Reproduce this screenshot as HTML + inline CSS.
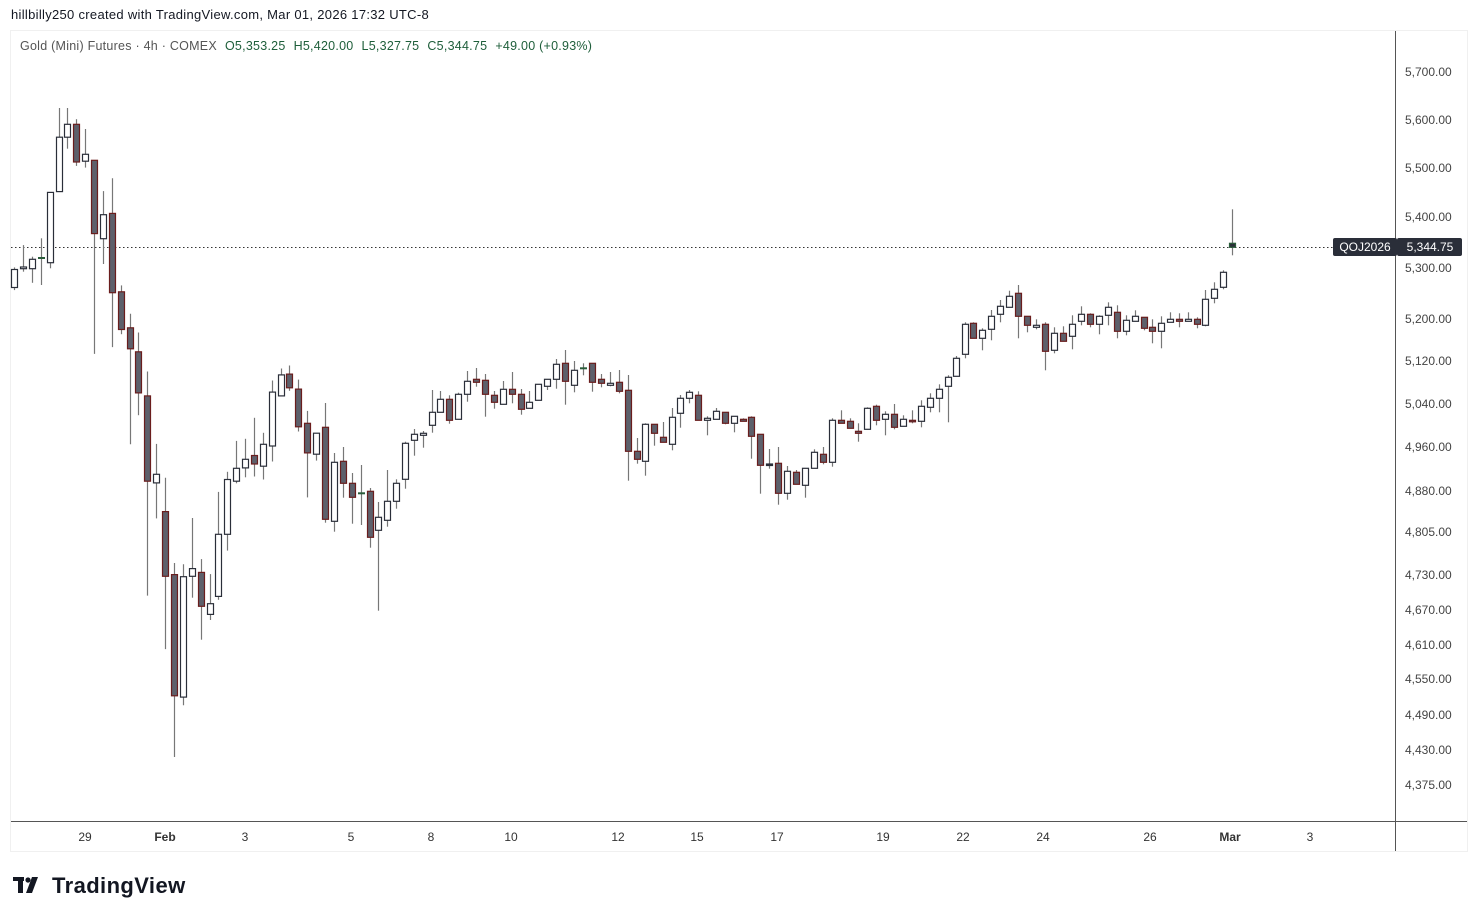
<!DOCTYPE html>
<html><head><meta charset="utf-8"><style>
body{margin:0;background:#fff;width:1478px;height:918px;overflow:hidden;font-family:"Liberation Sans",sans-serif}
</style></head><body>
<svg id="s" width="1478" height="918" xmlns="http://www.w3.org/2000/svg" font-family="Liberation Sans, sans-serif">
<rect x="0" y="0" width="1478" height="918" fill="#fff"/>
<rect x="10.5" y="30.5" width="1457" height="821" fill="#fff" stroke="#f0f0f0"/>
<text x="11" y="19" font-size="13" letter-spacing="0.3" fill="#131722">hillbilly250 created with TradingView.com, Mar 01, 2026 17:32 UTC-8</text>
<text x="20" y="50" font-size="12.5" letter-spacing="0.25" fill="#555"><tspan>Gold (Mini) Futures · 4h · COMEX</tspan><tspan fill="#1e5e3a" dx="8">O5,353.25</tspan><tspan fill="#1e5e3a" dx="8">H5,420.00</tspan><tspan fill="#1e5e3a" dx="8">L5,327.75</tspan><tspan fill="#1e5e3a" dx="8">C5,344.75</tspan><tspan fill="#1e5e3a" dx="8">+49.00 (+0.93%)</tspan></text>
<line x1="1395.5" y1="31" x2="1395.5" y2="851" stroke="#555" stroke-width="1"/>
<line x1="11" y1="821.5" x2="1467" y2="821.5" stroke="#555" stroke-width="1"/>
<line x1="11" y1="247.5" x2="1335" y2="247.5" stroke="#333" stroke-dasharray="1.5,2.5"/>
<g id="c"></g>
<g font-size="12" fill="#444" text-anchor="start" id="ya"></g>
<g font-size="12" fill="#333" text-anchor="middle" id="xa"></g>
<rect x="1333" y="238" width="64" height="18" rx="2" fill="#2a2e39"/>
<rect x="1397" y="238" width="65" height="18" rx="2" fill="#2a2e39"/>
<text x="1365" y="251" font-size="12" fill="#fff" text-anchor="middle">QOJ2026</text>
<text x="1430" y="251" font-size="12" fill="#fff" text-anchor="middle">5,344.75</text>
<g transform="translate(13,877)"><rect x="0" y="0" width="11" height="4" fill="#131722"/><rect x="5" y="0" width="5" height="16" fill="#131722"/><circle cx="15" cy="3" r="2.6" fill="#131722"/><polygon points="19,0 25,0 19,16 13,16" fill="#131722"/></g>
<text x="52" y="893" font-size="22" font-weight="bold" letter-spacing="0.4" fill="#131722">TradingView</text>
</svg>
<script>
var D=[
[14,269.5,287.5,267.4,290.1,'u'],[23,267,268.7,245.1,271.7,'u'],[32,259.3,268.7,256.7,282.8,'u'],[41,258,258,238.3,285,'g'],
[50,192.4,262.7,192.4,268.3,'u'],[59,137.2,191.6,108,191.6,'u'],[67,124.3,137.2,108,148.7,'u'],[76,124.3,162,119.2,165.9,'d'],
[85,154.3,161.2,129,167.6,'u'],[94,160.3,233.6,160.3,353.9,'d'],[103,214.7,238.7,191.1,264,'u'],[112,213.4,292.7,178.3,347.1,'d'],
[121,291.8,329.5,285.4,334.2,'d'],[130,327.8,348.8,313.7,444.3,'d'],[138,351.8,392.9,332.5,415.2,'d'],[147,395.9,481.2,371.5,595.6,'d'],
[156,474.3,482.9,443.9,518.4,'u'],[165,511.6,576.3,477.8,649.1,'d'],[174,574.6,695.8,563,757,'d'],[183,576.7,697.1,564.3,705.2,'u'],
[192,568.6,576.3,518,597.7,'u'],[201,572.4,606.3,559.1,639.7,'d'],[210,603.7,614.4,574.1,620,'u'],[218,534.3,596.4,491.9,599.8,'u'],
[227,479.5,534.3,471.8,550.6,'u'],[236,468.3,481.2,440.9,483.3,'u'],[245,459.3,467.9,438.8,477.3,'u'],[254,455.5,464,417.8,476.5,'d'],
[263,444.3,466.2,432.8,479.5,'u'],[272,392.1,446,380.5,461.5,'u'],[281,374.9,395.9,368.5,395.9,'u'],[289,374.1,387.8,365.5,390.8,'d'],
[298,389.1,426.8,379.6,431.5,'d'],[307,423.3,452.9,410.9,497.4,'d'],[316,433.2,454.2,433.2,460.6,'u'],
[325,427.3,519.3,403,522.7,'d'],[334,462.3,521.3,453,531.7,'u'],[343,461.3,483.3,447,497.7,'d'],[352,483.3,497.3,473,523.7,'d'],
[361,493.3,493.3,465,525,'g'],[370,491.3,537.3,488,547.7,'d'],[378,517.3,530.3,502,610.7,'u'],[387,501.3,520.3,470,526.7,'u'],
[396,483.3,501.3,479.3,508.7,'u'],[405,443.3,479.3,441.7,488.7,'u'],[414,434.3,440.3,429,455.7,'u'],[423,433.3,435.3,431,447.7,'u'],
[432,412.3,425.3,390,432.7,'u'],[440,399.3,412.3,391,412.3,'u'],[449,399.3,420.3,395.3,423.7,'d'],[458,394.3,419.3,392.7,419.3,'u'],
[467,381.3,394.3,371,401.7,'u'],[476,379.3,382.3,368,386.7,'d'],[485,380.3,394.3,374,416.7,'d'],[494,395.3,402.3,391,408.7,'d'],
[503,389.3,404.3,381,404.3,'u'],[512,389.3,394.3,372,403.3,'d'],[521,394.3,409.3,389,414.7,'d'],[529,402.3,408.3,391,408.3,'u'],
[538,384.3,400.3,384.3,400.3,'u'],[547,379.3,386.3,379.3,390,'u'],[556,364.3,379.3,359,388.7,'u'],[565,363.3,381.3,350,404.7,'d'],
[574,370.3,385.3,361,392.3,'u'],[583,368.3,368.3,363.3,375.3,'g'],[592,363.3,382.3,363.3,391.7,'d'],[601,379.3,383.3,374,387.3,'d'],
[610,383.3,385.3,372,386.3,'u'],[619,382.3,391.3,370,393.3,'d'],[628,390.3,451.3,375,480.7,'d'],[637,451.3,459.3,438,463.7,'d'],
[645,424.3,461.3,423.3,475.7,'u'],[654,424.3,433.3,424.3,445.7,'d'],[663,437.3,442.3,422,442.3,'d'],[672,417.3,444.3,408,450.3,'u'],
[680,398.3,413.3,395,427.7,'u'],[689,392.3,398.3,390,403.3,'u'],[698,395.3,420.3,391.3,420.3,'d'],[707,418.3,420.3,416.3,435.3,'u'],
[716,411.3,419.3,408,419.3,'u'],[725,412.3,423.3,412.3,424.3,'d'],[734,416.3,423.3,416.3,432.3,'u'],[743,419.3,421.3,418.3,421.3,'d'],
[751,417.3,436.3,416.3,458.7,'d'],[760,434.3,465.3,434.3,493.7,'d'],[769,464,465.5,449,468.7,'k'],[778,463.3,493.3,447,504.7,'d'],
[787,471.3,493.3,466,499.7,'u'],[796,472.3,484.3,470,484.3,'d'],[805,468.3,485.3,468.3,497.7,'u'],[814,452.3,468.3,449.3,468.3,'u'],
[823,454.3,462.3,447,464.3,'d'],[832,420.3,462.3,418.3,466.7,'u'],[841,420.3,423.3,410.3,423.3,'d'],[850,421.3,428.3,418.3,428.3,'d'],
[858,431.3,433.3,423.3,441.7,'d'],[867,408.3,429.3,407.3,429.3,'u'],[876,406.3,420.3,404.7,425.3,'d'],[885,414.3,419.3,411.3,435.3,'u'],
[894,414.3,427.3,404,429.3,'d'],[903,419.3,426.3,415.3,426.3,'u'],[912,420.3,421.3,410.3,423.3,'d'],[921,406.3,421.3,400.3,427.3,'u'],
[930,398.3,407.3,393.3,412.3,'u'],[939,389.3,398.3,384.3,412.3,'u'],[948,377.3,386.3,375.3,422.3,'u'],[956,358.3,376.3,356,376.3,'u'],
[965,324.3,354.3,322.3,358.3,'u'],[973,323.3,338.3,322.3,338.3,'d'],[982,330.3,338.3,328.3,350.3,'u'],[991,316.3,329.3,310,340.3,'u'],
[1000,306.3,314.3,300,322.3,'u'],[1009,296.3,307.3,290.7,307.3,'u'],[1018,293.3,316.3,285,338.3,'d'],[1027,316.3,325.3,316.3,332.3,'d'],
[1036,325.3,327.3,319.3,329.3,'u'],[1045,324.3,351.3,322.3,370.3,'d'],[1054,333.3,350.3,327.3,353.3,'u'],[1063,333.3,341.3,326.3,341.3,'d'],
[1072,324.3,336.3,315.3,349.3,'u'],[1081,314.3,321.3,306.3,325.3,'u'],[1090,314.3,324.3,313.3,327.3,'d'],[1099,316.3,324.3,315.3,334.3,'u'],
[1108,307.3,315.3,302.3,325.3,'u'],[1117,312.3,331.3,305.3,338.3,'d'],[1126,320.3,331.3,315.3,335.3,'u'],[1135,316.3,321.3,310.3,321.3,'u'],
[1144,317.3,328.3,317.3,330.3,'d'],[1152,327.3,331.3,319.3,343.3,'d'],[1161,323.3,331.3,316.3,348.3,'u'],[1170,319.3,322.3,312.3,322.3,'u'],
[1179,319.3,321.3,313.3,327.3,'d'],[1188,319.3,321.3,312.3,321.3,'u'],[1197,319.3,324.3,317.3,328.3,'d'],[1205,299.3,325.3,290,326.3,'u'],
[1214,289.3,298.3,282.3,303.3,'u'],[1223,272.3,287.3,270.3,289.3,'u'],[1232,243.3,247.3,209.3,255.3,'G']];
var h='';
D.forEach(function(c){var x=c[0],t=c[1],b=c[2],hi=c[3],lo=c[4],k=c[5];
h+='<line x1="'+(x+.5)+'" y1="'+hi+'" x2="'+(x+.5)+'" y2="'+lo+'" stroke="#777" stroke-width="1.2"/>';
var f,s;if(k=='u'){f='#fff';s='#2a2e39'}else if(k=='d'){f='#5d606b';s='#6a1d1d'}else if(k=='g'||k=='k'){f=k=='g'?'#2a5c3a':'#2a2e39';s=f}else{f='#2a2e39';s='#2a5c3a'}
var hh=Math.max(b-t,1.5);
if(k=='g'){h+='<rect x="'+(x-3)+'" y="'+(t-1)+'" width="7" height="2" fill="'+f+'"/>'}
else h+='<rect x="'+(x-2.5)+'" y="'+t+'" width="6" height="'+hh+'" fill="'+f+'" stroke="'+s+'" stroke-width="1.2"/>';});
document.getElementById('c').innerHTML=h;
var Y=[[5700,72],[5600,120],[5500,168],[5400,217],[5300,268],[5200,319],[5120,361],[5040,404],[4960,447],[4880,491],[4805,532],[4730,575],[4670,610],[4610,645],[4550,679],[4490,715],[4430,750],[4375,785]];
var yh='';Y.forEach(function(p){yh+='<text x="1405" y="'+(p[1]+4)+'">'+p[0].toLocaleString('en-US')+'.00</text>'});
document.getElementById('ya').innerHTML=yh;
var X=[['29',85],['Feb',165,1],['3',245],['5',351],['8',431],['10',511],['12',618],['15',697],['17',777],['19',883],['22',963],['24',1043],['26',1150],['Mar',1230,1],['3',1310]];
var xh='';X.forEach(function(p){xh+='<text x="'+p[1]+'" y="841"'+(p[2]?' font-weight="bold"':'')+'>'+p[0]+'</text>'});
document.getElementById('xa').innerHTML=xh;
</script>
</body></html>
